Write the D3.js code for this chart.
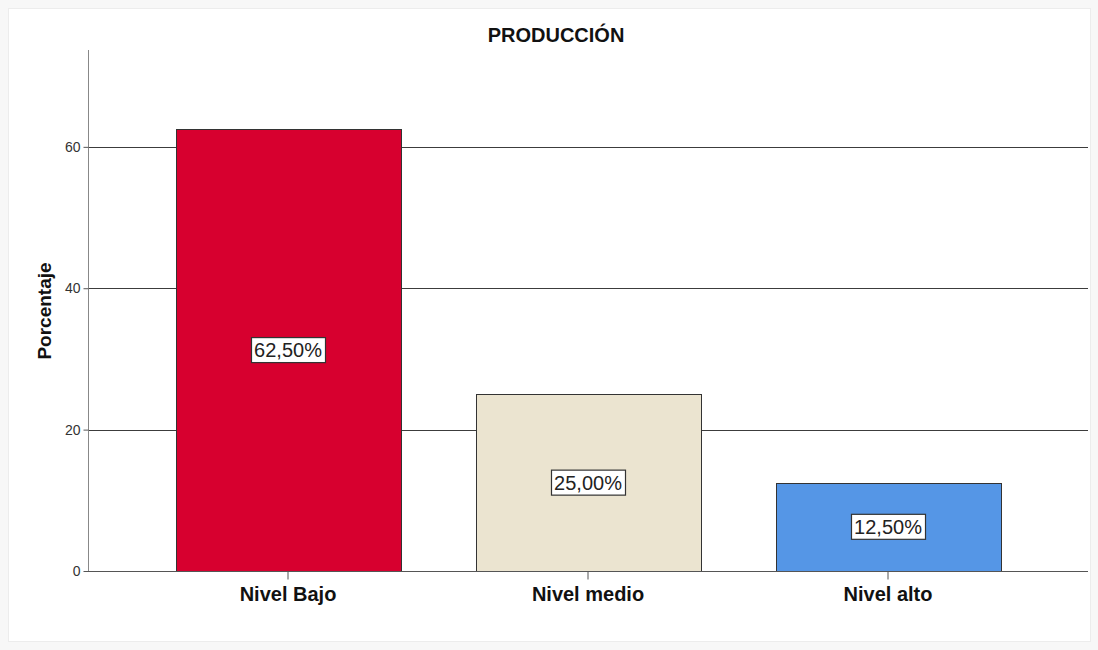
<!DOCTYPE html>
<html>
<head>
<meta charset="utf-8">
<script src="https://cdn.jsdelivr.net/npm/d3@7"></script>
<style>
  html, body { margin: 0; padding: 0; background: #f7f7f7; }
  svg { display: block; }
  text { font-family: "Liberation Sans", Arial, sans-serif; }
</style>
</head>
<body>
<svg id="chart" width="1098" height="650"></svg>
<script>
// Production level distribution (percent of cases)
const categories = ["Nivel Bajo", "Nivel medio", "Nivel alto"];
const percentages = [62.5, 25.0, 12.5];
const barColors = ["#d7002f", "#ebe4d0", "#5596e6"];
const yTicks = [0, 20, 40, 60];
const titleText = "PRODUCCIÓN";
const yAxisTitle = "Porcentaje";

const svg = d3.select("#chart");

// white chart panel with faint border
svg.append("rect")
  .attr("x", 8.5).attr("y", 8.5)
  .attr("width", 1082).attr("height", 633)
  .attr("fill", "#ffffff")
  .attr("stroke", "#ececec");

const plot = { left: 88, right: 1088, top: 50, bottom: 571 };

const x = d3.scaleBand()
  .domain(categories)
  .range([138, 1038])
  .paddingInner(0.25)
  .paddingOuter(0.125);

const y = d3.scaleLinear()
  .domain([0, 73.7])
  .range([plot.bottom, plot.top]);

const fmt = v => d3.format(".2f")(v).replace(".", ",") + "%";

// horizontal gridlines
svg.append("g")
  .selectAll("line")
  .data(yTicks.filter(d => d > 0))
  .join("line")
  .attr("x1", plot.left).attr("x2", plot.right)
  .attr("y1", d => Math.round(y(d)) + 0.5)
  .attr("y2", d => Math.round(y(d)) + 0.5)
  .attr("stroke", "#3c3c3c")
  .attr("stroke-width", 1);

// bars
svg.append("g")
  .selectAll("rect")
  .data(categories)
  .join("rect")
  .attr("x", d => Math.round(x(d)) + 0.5)
  .attr("y", (d, i) => Math.round(y(percentages[i])) + 0.5)
  .attr("width", Math.round(x.bandwidth()))
  .attr("height", (d, i) => Math.round(y(0)) - Math.round(y(percentages[i])))
  .attr("fill", (d, i) => barColors[i])
  .attr("stroke", "#333333")
  .attr("stroke-width", 1);

// y axis
const yAxis = svg.append("g")
  .attr("transform", `translate(${plot.left + 0.5},0)`)
  .call(d3.axisLeft(y).tickValues(yTicks).tickSize(5).tickPadding(3).tickFormat(d3.format("d")));
yAxis.select(".domain").attr("stroke", "#888888").attr("d", `M-0,${plot.top}V${plot.bottom}`);
yAxis.selectAll(".tick line").attr("stroke", "#555555");
yAxis.selectAll(".tick text")
  .attr("fill", "#333333")
  .attr("font-size", 14)
  .style("font-family", "'Liberation Sans', Arial, sans-serif");

// x axis baseline and ticks
const xAxis = svg.append("g")
  .attr("transform", `translate(0,${plot.bottom + 0.5})`)
  .call(d3.axisBottom(x).tickSize(8).tickPadding(7));
xAxis.select(".domain").attr("stroke", "#555555").attr("d", `M${plot.left},0H${plot.right}`);
xAxis.selectAll(".tick line").attr("stroke", "#555555");
xAxis.selectAll(".tick text")
  .attr("fill", "#111111")
  .attr("font-size", 20)
  .attr("font-weight", "bold")
  .style("font-family", "'Liberation Sans', Arial, sans-serif");

// value labels inside bars
const labels = svg.append("g")
  .selectAll("g")
  .data(categories)
  .join("g")
  .attr("transform", (d, i) =>
    `translate(${x(d) + x.bandwidth() / 2},${y(percentages[i] / 2)})`);

labels.append("rect")
  .attr("x", -36.5).attr("y", -12.5)
  .attr("width", 74).attr("height", 25)
  .attr("fill", "#ffffff")
  .attr("stroke", "#333333")
  .attr("stroke-width", 1.2);

labels.append("text")
  .attr("text-anchor", "middle")
  .attr("dy", "0.36em")
  .attr("font-size", 20)
  .attr("fill", "#222222")
  .text((d, i) => fmt(percentages[i]));

// title
svg.append("text")
  .attr("x", 556).attr("y", 42)
  .attr("text-anchor", "middle")
  .attr("font-size", 20)
  .attr("font-weight", "bold")
  .attr("fill", "#111111")
  .text(titleText);

// y axis title
svg.append("text")
  .attr("transform", `translate(51,311) rotate(-90)`)
  .attr("text-anchor", "middle")
  .attr("font-size", 19)
  .attr("font-weight", "bold")
  .attr("fill", "#111111")
  .text(yAxisTitle);
</script>
</body>
</html>
